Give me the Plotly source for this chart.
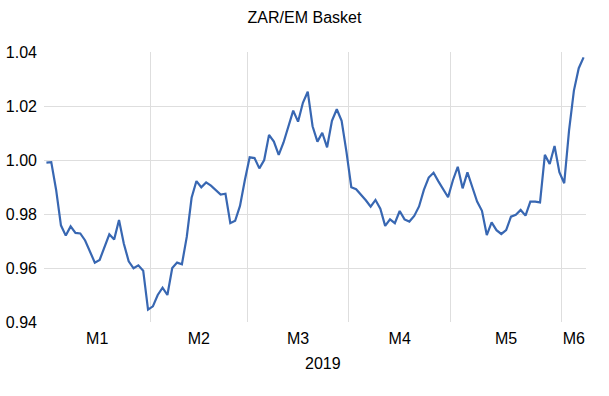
import plotly.graph_objects as go

# ---- data ----
months = ["M1", "M2", "M3", "M4", "M5", "M6"]
days_per_month = [22, 20, 21, 21, 23, 5]
year_label = "2019"

values = [
    # M1
    0.9990, 0.9992, 0.9890, 0.9758, 0.9720, 0.9754, 0.9730, 0.9728, 0.9702, 0.9658,
    0.9620, 0.9630, 0.9675, 0.9725, 0.9706, 0.9778, 0.9690, 0.9625, 0.9599, 0.9610,
    0.9590, 0.9446,
    # M2
    0.9458, 0.9500, 0.9527, 0.9500, 0.9600, 0.9620, 0.9614, 0.9715, 0.9860, 0.9922,
    0.9899, 0.9917, 0.9905, 0.9888, 0.9872, 0.9875, 0.9766, 0.9775, 0.9830, 0.9925,
    # M3
    1.0010, 1.0007, 0.9969, 1.0000, 1.0093, 1.0068, 1.0019, 1.0065, 1.0125, 1.0183,
    1.0142, 1.0212, 1.0253, 1.0125, 1.0068, 1.0101, 1.0047, 1.0145, 1.0188, 1.0145,
    1.0030,
    # M4
    0.9899, 0.9892, 0.9873, 0.9851, 0.9827, 0.9852, 0.9820, 0.9756, 0.9780, 0.9766,
    0.9811, 0.9780, 0.9772, 0.9793, 0.9828, 0.9889, 0.9935, 0.9953, 0.9921, 0.9889,
    0.9862,
    # M5
    0.9925, 0.9975, 0.9895, 0.9954, 0.9900, 0.9846, 0.9812, 0.9722, 0.9769, 0.9740,
    0.9726, 0.9740, 0.9790, 0.9797, 0.9815, 0.9794, 0.9846, 0.9846, 0.9843, 1.0019,
    0.9985, 1.0052, 0.9955,
    # M6
    0.9914, 1.0110, 1.0257, 1.0340, 1.0380,
]

y_ticks = [0.94, 0.96, 0.98, 1.00, 1.02, 1.04]
y_grid = [0.96, 0.98, 1.00, 1.02]

# ---- derived positions ----
x = list(range(len(values)))
bounds = []
centers = []
start = 0
for n in days_per_month:
    centers.append(start + (n - 1) / 2)
    start += n
    bounds.append(start - 0.5)
bounds = bounds[:-1]

FONT = "Liberation Sans"
LINE = "#3867B2"
GRID = "#DEDEDE"

fig = go.Figure(
    go.Scatter(x=x, y=values, mode="lines",
               line=dict(color=LINE, width=2.2), hoverinfo="skip")
)

fig.update_layout(
    width=609, height=396,
    margin=dict(l=44, r=23, t=52, b=74),
    paper_bgcolor="white", plot_bgcolor="white",
    showlegend=False,
    font=dict(family=FONT, size=16, color="#000000"),
    title=dict(text="ZAR/EM Basket", x=0.5, xanchor="center",
               xref="container", yref="container", y=1 - 17 / 396,
               yanchor="middle", font=dict(family=FONT, size=16, color="#000000")),
)

fig.update_xaxes(
    automargin=False,
    range=[-0.5, len(values) - 0.5],
    tickmode="array", tickvals=centers, ticktext=months,
    showgrid=False, zeroline=False, showline=False, ticks="",
    ticklabelstandoff=5,
    minor=dict(tickmode="array", tickvals=bounds, showgrid=True,
               gridcolor=GRID, gridwidth=1, ticks=""),
)

fig.update_yaxes(
    automargin=False,
    range=[0.94, 1.04],
    tickmode="array", tickvals=y_ticks,
    ticktext=[f"{v:.2f}" for v in y_ticks],
    showgrid=False, zeroline=False, showline=False, ticks="",
    ticklabelstandoff=6,
    minor=dict(tickmode="array", tickvals=y_grid, showgrid=True,
               gridcolor=GRID, gridwidth=1, ticks=""),
)

fig.add_annotation(text=year_label, xref="paper", yref="paper",
                   x=(323 - 44) / 542, y=-(364 - 322) / 270,
                   xanchor="center", yanchor="middle", showarrow=False,
                   font=dict(family=FONT, size=16, color="#000000"))

fig.write_html("out.html",
               config={"displayModeBar": False, "staticPlot": True},
               post_script="document.body.style.margin='0';document.body.style.padding='0';")
